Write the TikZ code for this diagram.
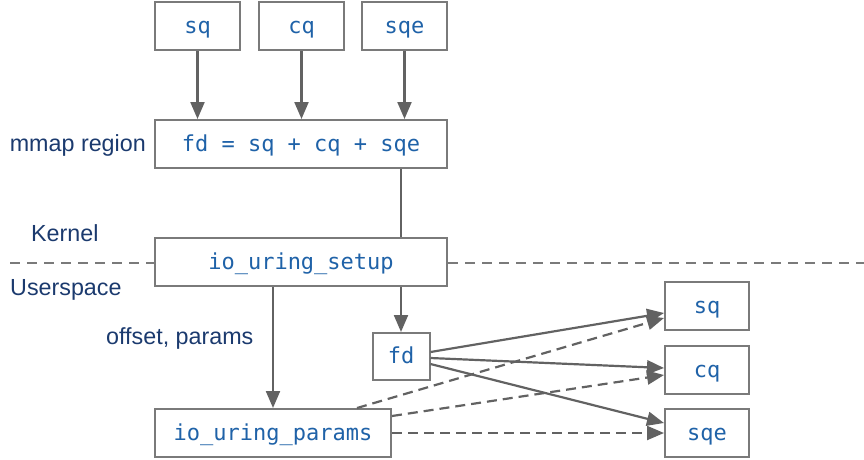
\documentclass[tikz,border=0pt]{standalone}
\usepackage{fontspec}
\setmainfont{Liberation Sans}
\newfontfamily\codefont{DejaVu Sans Mono}
\usetikzlibrary{arrows.meta,calc}
\definecolor{codeblue}{HTML}{1F62A8}
\definecolor{labelnavy}{HTML}{1B3A6E}
\definecolor{linegray}{HTML}{626262}
\definecolor{boxgray}{HTML}{7A7A7A}
\begin{document}
\begin{tikzpicture}[x=1pt,y=1pt,
  box/.style={draw=boxgray,line width=2pt,fill=white,inner sep=0pt,
    text height=16pt,text depth=2pt,
    font=\codefont\fontsize{22}{24}\selectfont,text=codeblue},
  lbl/.style={font=\fontsize{23.3}{26}\selectfont,text=labelnavy,inner sep=0pt},
  conn/.style={draw=linegray,line width=2.2pt},
  arr/.style={conn,-{Triangle[length=17pt,width=14pt]}},
  darr/.style={arr,dash pattern=on 10pt off 6pt}]
\useasboundingbox (0,0) rectangle (864,-459);
% top boxes
\node[box,minimum width=85pt,minimum height=48pt] (tsq) at (197.5,-26) {sq};
\node[box,minimum width=85pt,minimum height=48pt] (tcq) at (301.5,-26) {cq};
\node[box,minimum width=85pt,minimum height=48pt] (tsqe) at (404.5,-26) {sqe};
\node[box,minimum width=292pt,minimum height=48pt] (fdsum) at (301,-144) {fd = sq + cq + sqe};
\node[box,minimum width=292pt,minimum height=48pt] (setup) at (301,-262) {io\_uring\_setup};
\node[box,minimum width=57pt,minimum height=47pt] (fd) at (401,-356.5) {fd};
\node[box,minimum width=84pt,minimum height=48pt] (rsq) at (707,-306) {sq};
\node[box,minimum width=84pt,minimum height=48pt] (rcq) at (707,-370) {cq};
\node[box,minimum width=84pt,minimum height=48pt] (rsqe) at (707,-433) {sqe};
\node[box,minimum width=236pt,minimum height=48pt] (params) at (273,-433) {io\_uring\_params};
% labels
\node[lbl,anchor=east] (lmmap) at (146,-145) {mmap region};
\node[lbl,anchor=west] (lkern) at (31,-233) {Kernel};
\node[lbl,anchor=west] (luser) at (10,-290) {Userspace};
\node[lbl,anchor=west] (loff) at (106,-338) {offset, params};
% kernel/userspace divider
\coordinate (dl) at (10,-263);
\coordinate (dr) at (864,-263);
\draw[conn,draw=boxgray,line width=1.6pt,dash pattern=on 10pt off 7pt] (dl) -- (dl -| setup.west);
\draw[conn,draw=boxgray,line width=1.6pt,dash pattern=on 10pt off 7pt] (dr -| setup.east) -- (dr);
% arrows
\draw[arr] (tsq.south) -- (tsq.south |- fdsum.north);
\draw[arr] (tcq.south) -- (tcq.south |- fdsum.north);
\draw[arr] (tsqe.south) -- (tsqe.south |- fdsum.north);
\draw[conn] (fdsum.south -| fd.north) -- (setup.north -| fd.north);
\draw[arr] (setup.south -| fd.north) -- (fd.north);
\draw[arr] (setup.south -| params.north) -- (params.north);
\draw[arr] ($(fd.east)+(0,4.5)$) -- ($(rsq.west)+(0,-7)$);
\draw[arr] ($(fd.east)+(0,-1.5)$) -- ($(rcq.west)+(0,2)$);
\draw[arr] ($(fd.east)+(0,-7.5)$) -- ($(rsqe.west)+(0,10)$);
\draw[darr] ($(params.north)+(84,0)$) -- ($(rsq.west)+(0,-12)$);
\draw[darr] ($(params.east)+(0,17)$) -- ($(rcq.west)+(0,-5)$);
\draw[darr] (params.east) -- (rsqe.west);
\end{tikzpicture}
\end{document}
